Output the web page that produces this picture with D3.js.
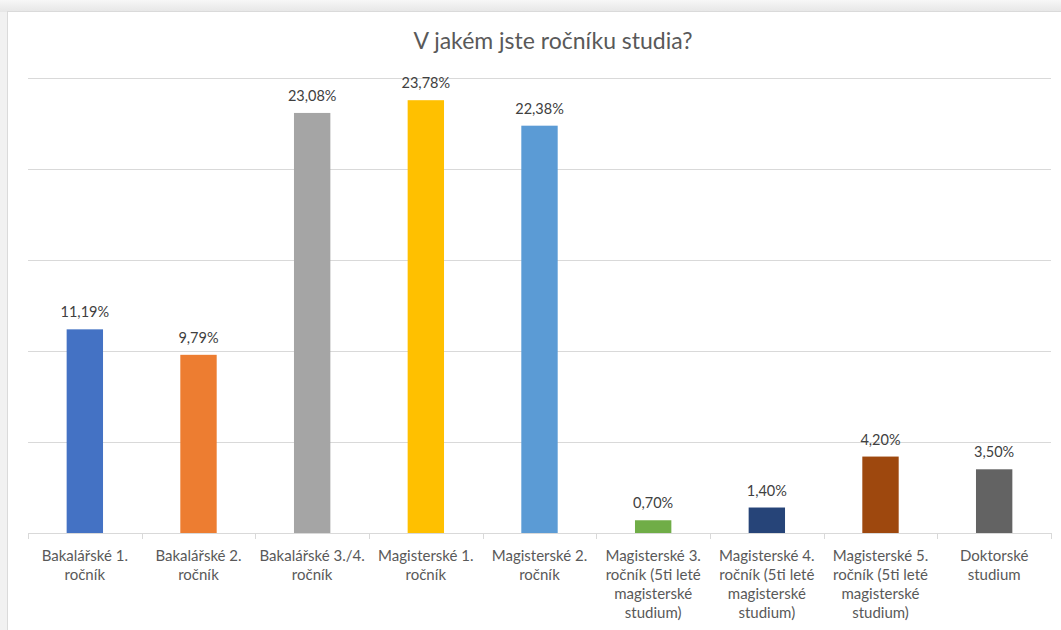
<!DOCTYPE html>
<html>
<head>
<meta charset="utf-8">
<script src="https://cdn.jsdelivr.net/npm/d3@7"></script>
<style>
  html, body { margin: 0; padding: 0; background: #fff; }
  svg { display: block; }
</style>
</head>
<body>
<div id="chart"></div>
<script>
// Survey answers: year of study
const title = 'V jakém jste ročníku studia?';
const categories = [
  'Bakalářské 1.\nročník',
  'Bakalářské 2.\nročník',
  'Bakalářské 3./4.\nročník',
  'Magisterské 1.\nročník',
  'Magisterské 2.\nročník',
  'Magisterské 3.\nročník (5ti leté\nmagisterské\nstudium)',
  'Magisterské 4.\nročník (5ti leté\nmagisterské\nstudium)',
  'Magisterské 5.\nročník (5ti leté\nmagisterské\nstudium)',
  'Doktorské\nstudium',
];
const values = [11.19, 9.79, 23.08, 23.78, 22.38, 0.70, 1.40, 4.20, 3.50];
const colors = ['#4472C4', '#ED7D31', '#A5A5A5', '#FFC000', '#5B9BD5',
                '#70AD47', '#264478', '#9E480E', '#636363'];
const gridTicks = [0, 5, 10, 15, 20, 25];

const CFG = {
  width: 1061,
  height: 630,
  plotLeft: 28,
  plotRight: 1051,
  plotTop: 78,
  plotBottom: 533,
  fontFamily: 'Lato, "Open Sans", "Liberation Sans", sans-serif',
  text: '#595959',
  grid: '#d9d9d9',
};

const svg = d3.select('#chart').append('svg')
  .attr('width', CFG.width).attr('height', CFG.height);

// window frame round the chart card
const defs = svg.append('defs');
const topGrad = defs.append('linearGradient').attr('id', 'topShade')
  .attr('x1', 0).attr('y1', 0).attr('x2', 0).attr('y2', 1);
topGrad.append('stop').attr('offset', '0%').attr('stop-color', '#f7f7f7');
topGrad.append('stop').attr('offset', '100%').attr('stop-color', '#e6e6e6');

svg.append('rect').attr('width', CFG.width).attr('height', CFG.height).attr('fill', '#f1f1f1');
svg.append('rect').attr('width', CFG.width).attr('height', 12).attr('fill', 'url(#topShade)');
svg.append('rect')
  .attr('x', 7.5).attr('y', 11.5)
  .attr('width', CFG.width + 10).attr('height', CFG.height + 10)
  .attr('fill', '#fff').attr('stroke', '#dadada');

const x = d3.scaleBand()
  .domain(categories)
  .range([CFG.plotLeft, CFG.plotRight])
  .paddingInner(0.68)
  .paddingOuter(0.34);

const y = d3.scaleLinear()
  .domain([0, 25])
  .range([CFG.plotBottom, CFG.plotTop]);

// title
svg.append('text')
  .attr('x', 553).attr('y', 49)
  .attr('text-anchor', 'middle')
  .attr('font-family', CFG.fontFamily)
  .attr('font-size', 23)
  .attr('fill', CFG.text)
  .text(title);

// gridlines
svg.append('g').selectAll('line')
  .data(gridTicks)
  .join('line')
  .attr('x1', CFG.plotLeft).attr('x2', CFG.plotRight)
  .attr('y1', d => Math.round(y(d)) + 0.5)
  .attr('y2', d => Math.round(y(d)) + 0.5)
  .attr('stroke', CFG.grid).attr('stroke-width', 1);

// category tick marks at band edges
const edges = categories.map(c => x(c) - x.step() * 0.34).concat([CFG.plotRight]);
svg.append('g').selectAll('line')
  .data(edges)
  .join('line')
  .attr('x1', d => Math.round(d) + 0.5).attr('x2', d => Math.round(d) + 0.5)
  .attr('y1', CFG.plotBottom).attr('y2', CFG.plotBottom + 6)
  .attr('stroke', CFG.grid);

// bars
svg.append('g').selectAll('rect')
  .data(values)
  .join('rect')
  .attr('x', (d, i) => x(categories[i]))
  .attr('y', d => y(d))
  .attr('width', x.bandwidth())
  .attr('height', d => y(0) - y(d))
  .attr('fill', (d, i) => colors[i]);

// data labels
const fmt = v => d3.format('.2f')(v).replace('.', ',') + '%';
svg.append('g').selectAll('text')
  .data(values)
  .join('text')
  .attr('x', (d, i) => x(categories[i]) + x.bandwidth() / 2)
  .attr('y', d => y(d) - 12)
  .attr('text-anchor', 'middle')
  .attr('font-family', CFG.fontFamily)
  .attr('font-size', 14.5)
  .attr('fill', '#404040')
  .text(fmt);

// category labels
const labels = svg.append('g').selectAll('text')
  .data(categories)
  .join('text')
  .attr('x', d => x(d) + x.bandwidth() / 2)
  .attr('y', 561)
  .attr('text-anchor', 'middle')
  .attr('font-family', CFG.fontFamily)
  .attr('font-size', 15)
  .attr('fill', CFG.text);

labels.selectAll('tspan')
  .data(d => d.split('\n'))
  .join('tspan')
  .attr('x', function () { return d3.select(this.parentNode).attr('x'); })
  .attr('dy', (d, i) => i === 0 ? 0 : 19)
  .text(d => d);
</script>
</body>
</html>
